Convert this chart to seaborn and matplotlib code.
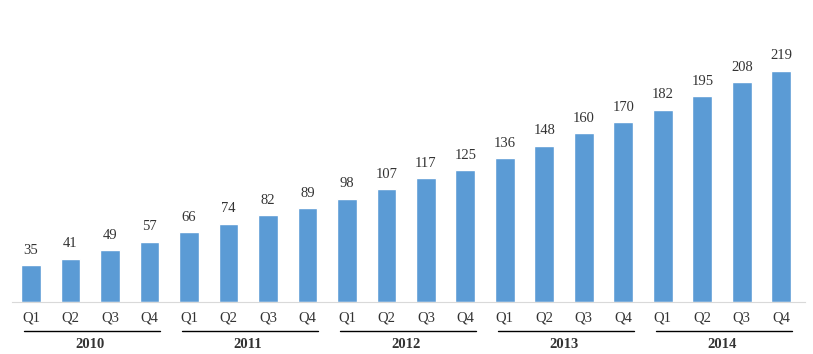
import pandas as pd
import matplotlib.pyplot as plt
import matplotlib.transforms as mtransforms
import seaborn as sns

years = ['2010', '2011', '2012', '2013', '2014']
quarters = ['Q1', 'Q2', 'Q3', 'Q4']
values = [35, 41, 49, 57, 66, 74, 82, 89, 98, 107, 117, 125,
          136, 148, 160, 170, 182, 195, 208, 219]

df = pd.DataFrame({'pos': range(len(values)), 'value': values})

sns.set_style('white')
plt.rcParams['font.family'] = ['Liberation Serif', 'DejaVu Serif']

fig = plt.figure(figsize=(8.13, 3.54), dpi=100)
ax = fig.add_axes([12 / 813, 52 / 354, 793 / 813, 302 / 354])

sns.barplot(data=df, x='pos', y='value', color='#5B9BD5', saturation=1,
            width=0.5, ax=ax)

# value labels above bars
for i, v in enumerate(values):
    ax.text(i, v + 8, str(v), ha='center', va='bottom', fontsize=10.5,
            color='#333333')

ax.set_xlim(-0.48, 19.6)
ax.set_ylim(0, 286)
ax.set_yticks([])
ax.set_xticks(range(len(values)))
ax.set_xticklabels(quarters * len(years), fontsize=10.5, color='#333333')
ax.tick_params(axis='x', length=0, pad=7)
ax.set_xlabel('')
ax.set_ylabel('')
for s in ['top', 'right', 'left']:
    ax.spines[s].set_visible(False)
ax.spines['bottom'].set_color('#D9D9D9')

# year groups under quarter labels
trans = mtransforms.blended_transform_factory(ax.transData, ax.transAxes)
for k, yr in enumerate(years):
    x0 = k * 4 - 0.18
    x1 = k * 4 + 3 + 0.27
    ax.plot([x0, x1], [-29 / 302, -29 / 302], color='black', lw=1,
            transform=trans, clip_on=False)
    ax.text(k * 4 + 1.5, -43 / 302, yr, transform=trans, ha='center',
            va='center', fontsize=10.5, fontweight='bold', color='#333333')

fig.savefig('out.png', dpi=100)
